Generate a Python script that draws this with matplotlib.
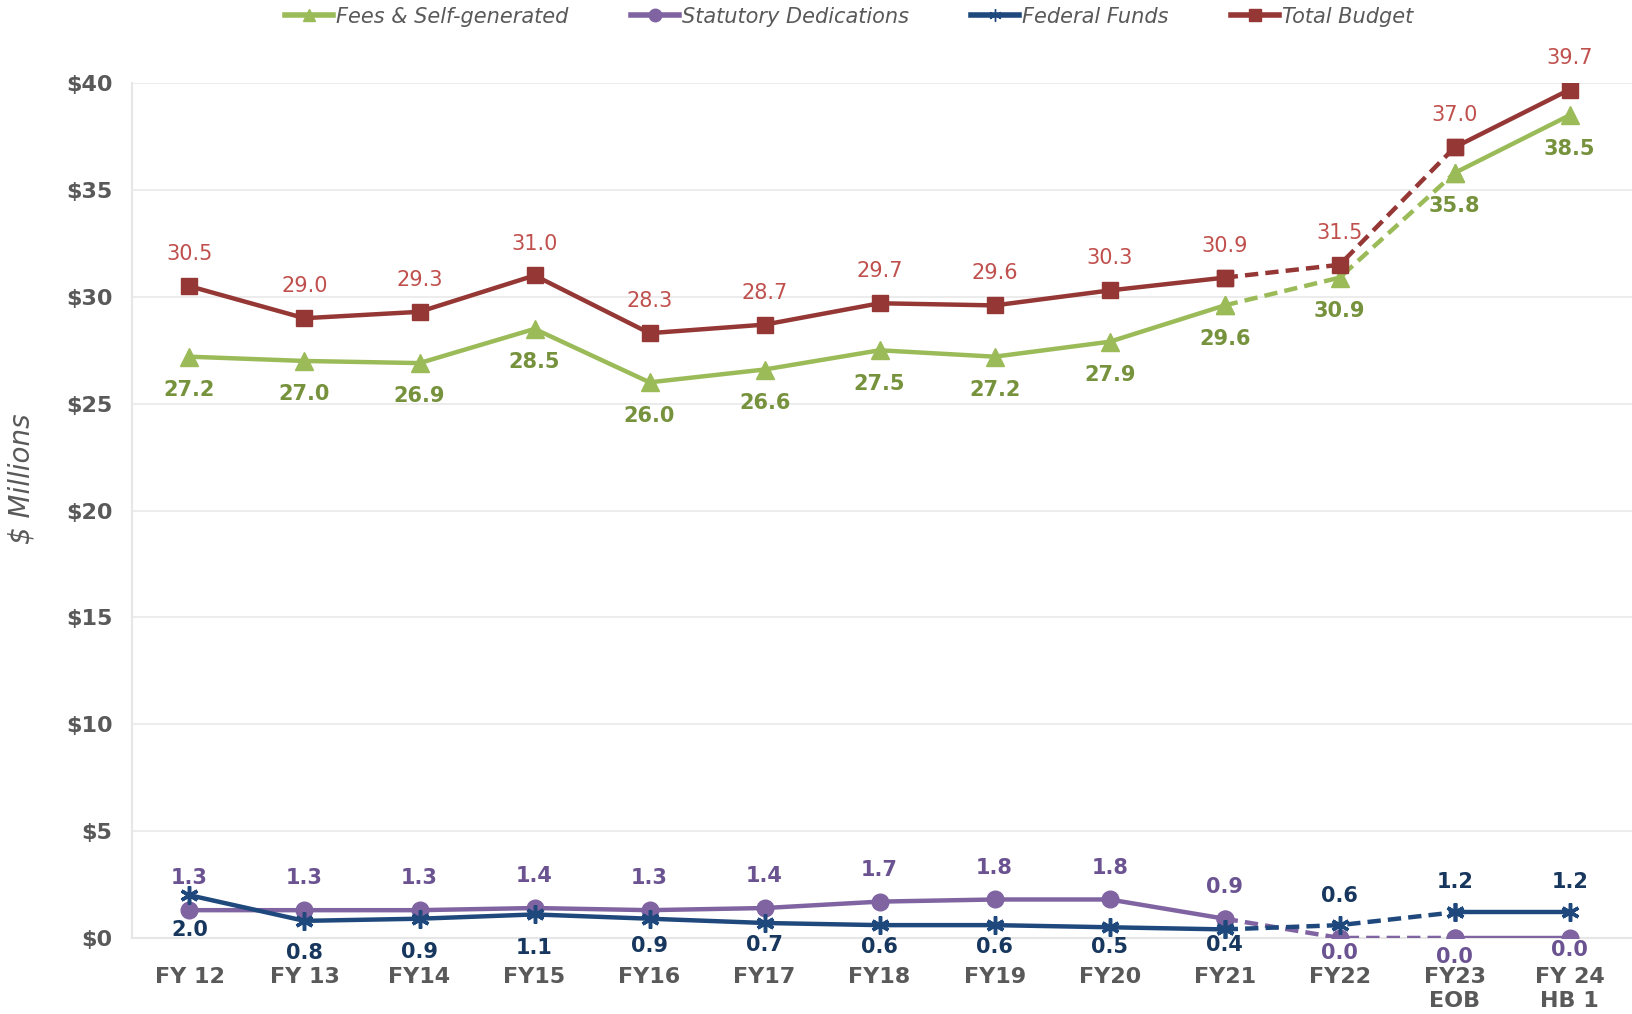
import numpy as np
import matplotlib
matplotlib.use("Agg")
import matplotlib.pyplot as plt
from matplotlib.lines import Line2D

years = ["FY 12", "FY 13", "FY14", "FY15", "FY16", "FY17", "FY18", "FY19",
         "FY20", "FY21", "FY22", "FY23\nEOB", "FY 24\nHB 1"]
fees = [27.2, 27.0, 26.9, 28.5, 26.0, 26.6, 27.5, 27.2, 27.9, 29.6, 30.9, 35.8, 38.5]
statded = [1.3, 1.3, 1.3, 1.4, 1.3, 1.4, 1.7, 1.8, 1.8, 0.9, 0.0, 0.0, 0.0]
federal = [2.0, 0.8, 0.9, 1.1, 0.9, 0.7, 0.6, 0.6, 0.5, 0.4, 0.6, 1.2, 1.2]
total = [30.5, 29.0, 29.3, 31.0, 28.3, 28.7, 29.7, 29.6, 30.3, 30.9, 31.5, 37.0, 39.7]

# label offsets in points (positive = above the point)
fees_dy = [-24] * 13
stat_dy = [23] * 10 + [-11, -14, -9]
fed_dy = [-25, -23, -24, -24, -20, -16, -16, -16, -14, -11.5, 21, 22, 22]
total_dy = [23] * 13

gray = "#595959"
fig = plt.figure(figsize=(16.33, 10.14), dpi=100)
ax = fig.add_axes([0.0808, 0.075, 0.9192, 0.843])

x = np.arange(len(years))
solid1 = slice(0, 10)
dash = slice(9, 12)
solid2 = slice(11, 13)

series = [
    (fees, "#9BBB59", "^", 13, "#76923C", "bold", fees_dy, "Fees & Self-generated"),
    (statded, "#8064A2", "o", 12, "#6B5391", "bold", stat_dy, "Statutory Dedications"),
    (federal, "#1F497D", (6, 2, 0), 13, "#17375E", "bold", fed_dy, "Federal Funds"),
    (total, "#953735", "s", 11, "#C0504D", "normal", total_dy, "Total Budget"),
]

handles = []
for vals, col, mk, ms, lcol, wt, dy, name in series:
    v = np.array(vals)
    kw = dict(color=col, lw=3.2, marker=mk, markersize=ms, markeredgewidth=2.5 if mk == (6, 2, 0) else 1,
              markeredgecolor=col, markerfacecolor=col, zorder=3)
    ax.plot(x[solid1], v[solid1], **kw)
    ax.plot(x[dash], v[dash], linestyle=(0, (3, 1.6)), **kw)
    ax.plot(x[solid2], v[solid2], **kw)
    for i, val in enumerate(vals):
        ax.annotate(f"{val:.1f}", (x[i], val), xytext=(0, dy[i]),
                    textcoords="offset points", ha="center", va="center",
                    fontsize=15, color=lcol, fontweight=wt)
    handles.append(Line2D([], [], color=col, lw=4, marker=mk, markersize=9,
                          markeredgecolor=col, markerfacecolor=col, label=name))

ax.set_xlim(-0.5, 12.55)
ax.set_ylim(0, 40)
ax.set_yticks(range(0, 41, 5))
ax.set_yticklabels([f"${t}" for t in range(0, 41, 5)], fontsize=16,
                   fontweight="bold", color=gray)
ax.set_xticks(x)
ax.set_xticklabels(years, fontsize=16, fontweight="bold", color=gray, linespacing=1.25)
ax.tick_params(axis="both", length=0)
ax.tick_params(axis="y", pad=14)
ax.tick_params(axis="x", pad=21)
ax.grid(axis="y", color="#EBEBEB", lw=1.3)
ax.set_axisbelow(True)
for s in ["top", "right"]:
    ax.spines[s].set_visible(False)
for s in ["left", "bottom"]:
    ax.spines[s].set_color("#E6E6E6")
    ax.spines[s].set_linewidth(1.5)

ax.set_ylabel("$ Millions", fontsize=20, style="italic", color=gray)
ax.yaxis.set_label_coords(-0.064, 0.537)

fig.legend(handles=handles, loc="upper center", bbox_to_anchor=(0.52, 1.012), ncol=4,
           frameon=False, handlelength=2.3, columnspacing=3.0,
           handletextpad=0.15, labelcolor=gray,
           prop={"size": 15, "style": "italic"})

fig.savefig("out.png", dpi=100)
